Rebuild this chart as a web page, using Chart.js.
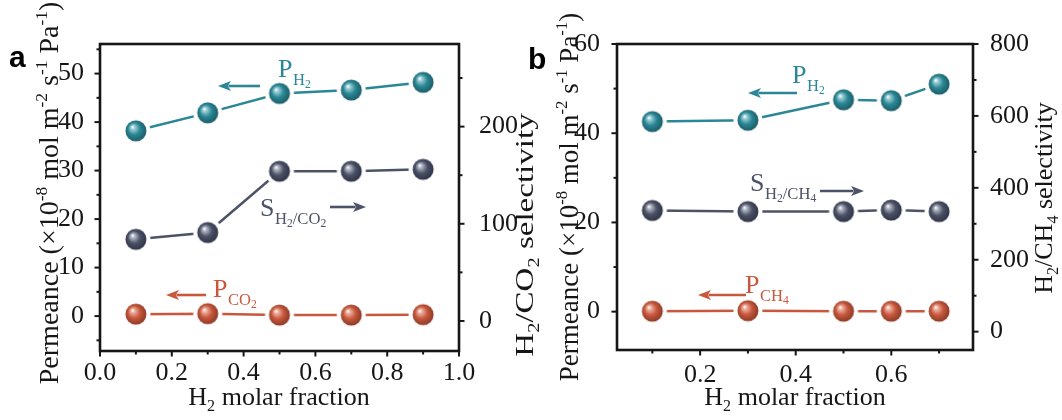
<!DOCTYPE html>
<html><head><meta charset="utf-8">
<script src="https://cdn.jsdelivr.net/npm/chart.js@4.4.0/dist/chart.umd.min.js"></script>
<style>
html,body{margin:0;padding:0;background:#fff;width:1062px;height:420px;overflow:hidden;}
canvas{position:absolute;top:0;}
#ca{left:0;} #cb{left:500px;}
</style></head><body>
<canvas id="ca" width="560" height="420"></canvas>
<canvas id="cb" width="562" height="420"></canvas>
<script>
// ---------- data ----------
const fractionA = [0.1, 0.3, 0.5, 0.7, 0.9];
const permH2A   = [38.2, 41.9, 45.9, 46.6, 48.2];
const selH2CO2  = [84, 91, 154, 154, 156];
const permCO2A  = [0.4, 0.5, 0.2, 0.2, 0.3];

const fractionB = [0.1, 0.3, 0.5, 0.6, 0.7];
const permH2B   = [42.6, 42.9, 47.5, 47.3, 51.0];
const selH2CH4  = [337, 334, 334, 338, 334];
const permCH4B  = [0.1, 0.2, 0.1, 0.1, 0.1];

const ticksXA  = [0, 0.2, 0.4, 0.6, 0.8, 1.0];
const minorXA  = [0.1, 0.3, 0.5, 0.7, 0.9];
const ticksYA  = [0, 10, 20, 30, 40, 50];
const minorYA  = [-5, 5, 15, 25, 35, 45, 55];
const ticksY2A = [0, 100, 200];
const minorY2A = [50, 150, 250];

const ticksXB  = [0.2, 0.4, 0.6];
const minorXB  = [0.1, 0.3, 0.5, 0.7];
const ticksYB  = [0, 20, 40, 60];
const minorYB  = [10, 30, 50];
const ticksY2B = [0, 200, 400, 600, 800];
const minorY2B = [100, 300, 500, 700];

// ---------- styles ----------
const SERIF = '"Liberation Serif", "Times New Roman", serif';
const TEAL = '#2b8795', SLATE = '#4d5367', RED = '#c8583d';
const INK = '#161616';

function sphere(base, light, dark) {
  const s = 32, c = document.createElement('canvas');
  c.width = s; c.height = s;
  const g = c.getContext('2d');
  g.fillStyle = '#fff';
  g.beginPath(); g.arc(16, 16, 14.5, 0, Math.PI * 2); g.fill();
  const gr = g.createRadialGradient(12.5, 12, 0.3, 15.5, 15.5, 10.8);
  gr.addColorStop(0, '#ffffff');
  gr.addColorStop(0.16, light);
  gr.addColorStop(0.55, base);
  gr.addColorStop(1, dark);
  g.fillStyle = gr;
  g.beginPath(); g.arc(16, 16, 10.5, 0, Math.PI * 2); g.fill();
  return c;
}
const sphTeal  = sphere('#2a8795', '#9fd0d8', '#1c5e69');
const sphSlate = sphere('#4c5266', '#b5b9c6', '#30354a');
const sphRed   = sphere('#c8583d', '#eeb3a3', '#8f3b27');

function fontFor(l, size) {
  const f = l === 0 ? size : (l === -2 ? size * 0.62 * 0.72 : size * 0.62);
  return f.toFixed(1) + 'px ' + SERIF;
}
function offFor(l, size) {
  if (l === 1) return -size * 0.4;
  if (l === -1) return size * 0.22;
  if (l === -2) return size * 0.34;
  return 0;
}
function richWidth(ctx, parts, size) {
  let w = 0;
  for (const [t, l] of parts) { ctx.font = fontFor(l, size); w += ctx.measureText(t).width; }
  return w;
}
function drawRich(ctx, parts, size, x, y) {
  ctx.textBaseline = 'alphabetic'; ctx.textAlign = 'left';
  let cx = x;
  for (const [t, l] of parts) {
    ctx.font = fontFor(l, size);
    ctx.fillText(t, cx, y + offFor(l, size));
    cx += ctx.measureText(t).width;
  }
}
function drawRichRot(ctx, parts, size, bx, cy, color, stretch) {
  ctx.save();
  ctx.fillStyle = color;
  ctx.translate(bx, cy);
  ctx.rotate(-Math.PI / 2);
  if (stretch) ctx.scale(stretch, 1);
  const w = richWidth(ctx, parts, size);
  drawRich(ctx, parts, size, -w / 2, 0);
  ctx.restore();
}
function drawRichCenter(ctx, parts, size, cx, y, color) {
  ctx.save(); ctx.fillStyle = color;
  const w = richWidth(ctx, parts, size);
  drawRich(ctx, parts, size, cx - w / 2, y);
  ctx.restore();
}
function annot(ctx, x, y, main, subParts, color, size) {
  ctx.save(); ctx.fillStyle = color;
  ctx.font = size + 'px ' + SERIF;
  ctx.textBaseline = 'alphabetic'; ctx.textAlign = 'left';
  ctx.fillText(main, x, y);
  const w = ctx.measureText(main).width;
  const ss = size * 0.64;
  let cx = x + w + 0.5;
  for (const [t, l] of subParts) {
    const fs = l === 0 ? ss : ss * 0.7;
    ctx.font = fs.toFixed(1) + 'px ' + SERIF;
    ctx.fillText(t, cx, y + size * 0.3 + (l === 0 ? 0 : ss * 0.22));
    cx += ctx.measureText(t).width;
  }
  ctx.restore();
}
function arrow(ctx, x1, y, x2, color) {
  const dir = Math.sign(x2 - x1);
  const hl = 13, hw = 5;
  ctx.save();
  ctx.strokeStyle = color; ctx.fillStyle = color; ctx.lineWidth = 2.6;
  ctx.beginPath(); ctx.moveTo(x1, y); ctx.lineTo(x2 - dir * hl * 0.8, y); ctx.stroke();
  ctx.beginPath(); ctx.moveTo(x2, y); ctx.lineTo(x2 - dir * hl, y - hw); ctx.lineTo(x2 - dir * hl * 0.75, y);
  ctx.lineTo(x2 - dir * hl, y + hw); ctx.closePath(); ctx.fill();
  ctx.restore();
}

function frameAndTicks(chart, spec) {
  const ctx = chart.ctx, a = chart.chartArea;
  const sx = chart.scales.x, sy = chart.scales.y, sy2 = chart.scales.y2;
  ctx.save();
  ctx.strokeStyle = INK; ctx.lineWidth = 2.6;
  ctx.strokeRect(a.left, a.top, a.right - a.left, a.bottom - a.top);
  ctx.lineWidth = 2;
  const maj = 5.5, mn = 3.5;
  const tx = (vals, len) => vals.forEach(v => { const p = sx.getPixelForValue(v);
    ctx.beginPath(); ctx.moveTo(p, a.bottom); ctx.lineTo(p, a.bottom + len); ctx.stroke(); });
  const tyl = (vals, len) => vals.forEach(v => { const p = sy.getPixelForValue(v);
    ctx.beginPath(); ctx.moveTo(a.left, p); ctx.lineTo(a.left - len, p); ctx.stroke(); });
  const tyr = (vals, len) => vals.forEach(v => { const p = sy2.getPixelForValue(v);
    ctx.beginPath(); ctx.moveTo(a.right, p); ctx.lineTo(a.right + len, p); ctx.stroke(); });
  tx(spec.tx, maj); tx(spec.mx, mn);
  tyl(spec.ty, maj); tyl(spec.my, mn);
  tyr(spec.ty2, maj); tyr(spec.my2, mn);
  // x tick labels
  ctx.fillStyle = INK; ctx.font = '26px ' + SERIF;
  ctx.textAlign = 'center'; ctx.textBaseline = 'alphabetic';
  spec.tx.forEach(v => ctx.fillText(v.toFixed(1), sx.getPixelForValue(v), spec.xlabY));
  ctx.restore();
}

function baseOptions(p) {
  const tickFont = { family: SERIF, size: 26 };
  return {
    responsive: false, animation: false, devicePixelRatio: 1,
    layout: { padding: { top: p.top, left: 0, right: 0, bottom: 0 } },
    plugins: { legend: { display: false }, tooltip: { enabled: false } },
    elements: { line: { borderWidth: 2.5, tension: 0 }, point: { radius: 10, hoverRadius: 10 } },
    scales: {
      x: { type: 'linear', min: p.xmin, max: p.xmax,
        afterBuildTicks: s => { s.ticks = p.xt.map(v => ({ value: v })); },
        afterFit: s => { s.height = 420 - p.bottom; },
        grid: { display: false }, border: { display: false },
        ticks: { display: false } },
      y: { position: 'left', min: p.ymin, max: p.ymax,
        afterBuildTicks: s => { s.ticks = p.yt.map(v => ({ value: v })); },
        afterFit: s => { s.width = p.left; },
        grid: { display: false }, border: { display: false },
        ticks: { font: tickFont, color: INK, padding: p.ypad, autoSkip: false, callback: v => String(v) } },
      y2: { position: 'right', min: p.y2min, max: p.y2max,
        afterBuildTicks: s => { s.ticks = p.y2t.map(v => ({ value: v })); },
        afterFit: s => { s.width = p.W - p.right; },
        grid: { display: false }, border: { display: false },
        ticks: { font: tickFont, color: INK, padding: p.y2pad, autoSkip: false, callback: v => String(v) } }
    }
  };
}
function ds(xs, ys, axis, color, img) {
  return { data: xs.map((x, i) => ({ x: x, y: ys[i] })), yAxisID: axis, borderColor: color,
    backgroundColor: color, pointStyle: img, borderWidth: 2.5, clip: false };
}
const PERM = [['Permeance (\u00d710', 0], ['-8', 1], [' mol m', 0], ['-2', 1], [' s', 0], ['-1', 1], [' Pa', 0], ['-1', 1], [')', 0]];
const XT = [['H', 0], ['2', -1], [' molar fraction', 0]];

// ---------- panel a ----------
const decorA = { id: 'decorA', afterDatasetsDraw(chart) {
  const ctx = chart.ctx;
  frameAndTicks(chart, { tx: ticksXA, mx: minorXA, ty: ticksYA, my: minorYA, ty2: ticksY2A, my2: minorY2A, xlabY: 380 });
  annot(ctx, 278, 77, 'P', [['H', 0], ['2', -1]], TEAL, 26);
  arrow(ctx, 260, 86, 218, TEAL);
  annot(ctx, 260, 216, 'S', [['H', 0], ['2', -1], ['/CO', 0], ['2', -1]], SLATE, 26);
  arrow(ctx, 330, 207, 366, SLATE);
  annot(ctx, 213, 297, 'P', [['CO', 0], ['2', -1]], RED, 26);
  arrow(ctx, 206, 295, 166, RED);
  drawRichRot(ctx, PERM, 28, 58, 193, INK);
  drawRichRot(ctx, [['H', 0], ['2', -1], ['/CO', 0], ['2', -1], [' selectivity', 0]], 26, 533, 235, INK, 1.27);
  drawRichCenter(ctx, XT, 26, 279, 405, INK);
  ctx.save(); ctx.fillStyle = '#000'; ctx.font = 'bold 30px "Liberation Sans", Arial, sans-serif';
  ctx.textBaseline = 'alphabetic'; ctx.textAlign = 'left'; ctx.fillText('a', 9, 67); ctx.restore();
} };
new Chart(document.getElementById('ca'), {
  type: 'line',
  data: { datasets: [
    ds(fractionA, permH2A, 'y', TEAL, sphTeal),
    ds(fractionA, selH2CO2, 'y2', SLATE, sphSlate),
    ds(fractionA, permCO2A, 'y', RED, sphRed)
  ] },
  options: baseOptions({ W: 560, top: 44, bottom: 351, left: 100, right: 459,
    xmin: 0, xmax: 1, xt: ticksXA,
    ymin: -7.2, ymax: 56.1, yt: ticksYA, ypad: 8,
    y2min: -30.9, y2max: 285, y2t: ticksY2A, y2pad: 12 }),
  plugins: [decorA]
});

// ---------- panel b ----------
const OX = 500;
const decorB = { id: 'decorB', afterDatasetsDraw(chart) {
  const ctx = chart.ctx;
  frameAndTicks(chart, { tx: ticksXB, mx: minorXB, ty: ticksYB, my: minorYB, ty2: ticksY2B, my2: minorY2B, xlabY: 382 });
  annot(ctx, 792 - OX, 83, 'P', [['H', 0], ['2', -1]], TEAL, 26);
  arrow(ctx, 797 - OX, 93, 748 - OX, TEAL);
  annot(ctx, 750 - OX, 191, 'S', [['H', 0], ['2', -1], ['/CH', 0], ['4', -1]], SLATE, 26);
  arrow(ctx, 820 - OX, 191, 864 - OX, SLATE);
  annot(ctx, 745 - OX, 293, 'P', [['CH', 0], ['4', -1]], RED, 26);
  arrow(ctx, 746 - OX, 295, 698 - OX, RED);
  drawRichRot(ctx, PERM, 27, 578 - OX, 197, INK);
  drawRichRot(ctx, [['H', 0], ['2', -1], ['/CH', 0], ['4', -1], [' selectivity', 0]], 26, 1052 - OX, 198, INK);
  drawRichCenter(ctx, XT, 26, 795 - OX, 405, INK);
  ctx.save(); ctx.fillStyle = '#000'; ctx.font = 'bold 30px "Liberation Sans", Arial, sans-serif';
  ctx.textBaseline = 'alphabetic'; ctx.textAlign = 'left'; ctx.fillText('b', 528 - OX, 69); ctx.restore();
} };
new Chart(document.getElementById('cb'), {
  type: 'line',
  data: { datasets: [
    ds(fractionB, permH2B, 'y', TEAL, sphTeal),
    ds(fractionB, selH2CH4, 'y2', SLATE, sphSlate),
    ds(fractionB, permCH4B, 'y', RED, sphRed)
  ] },
  options: baseOptions({ W: 562, top: 44, bottom: 350, left: 617 - OX, right: 973 - OX,
    xmin: 0.026, xmax: 0.771, xt: ticksXB,
    ymin: -8.6, ymax: 60, yt: ticksYB, ypad: 9,
    y2min: -51, y2max: 800, y2t: ticksY2B, y2pad: 9 }),
  plugins: [decorB]
});
</script>
</body></html>
